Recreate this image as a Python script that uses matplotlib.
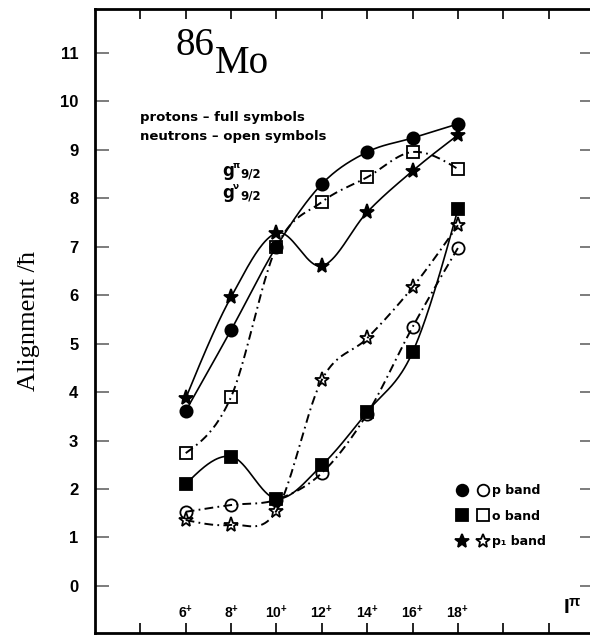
import numpy as np
import matplotlib
matplotlib.use("Agg")
import matplotlib.pyplot as plt
from matplotlib.lines import Line2D
from matplotlib.legend_handler import HandlerTuple

plt.rcParams['mathtext.fontset'] = 'custom'
plt.rcParams['mathtext.rm'] = 'Liberation Sans'
plt.rcParams['mathtext.bf'] = 'Liberation Sans:bold'
plt.rcParams['mathtext.it'] = 'Liberation Sans:italic'

# Spin values and alignment (in units of hbar) for each band
spins = [6, 8, 10, 12, 14, 16, 18]
spin_labels = ['6', '8', '10', '12', '14', '16', '18']
proton_p = [3.61, 5.28, 7.00, 8.29, 8.95, 9.24, 9.53]
proton_o = [2.10, 2.67, 1.80, 2.49, 3.59, 4.82, 7.77]
proton_p1 = [3.87, 5.96, 7.28, 6.60, 7.71, 8.56, 9.30]
neutron_p = [1.53, 1.67, 1.78, 2.33, 3.55, 5.34, 6.97]
neutron_o = [2.74, 3.90, 6.99, 7.92, 8.43, 8.95, 8.60]
neutron_p1 = [1.36, 1.26, 1.55, 4.25, 5.11, 6.16, 7.44]
band_names = ['p band', 'o band', 'p\u2081 band']
y_ticks = list(range(0, 12))

SANS_BOLD = dict(family='DejaVu Sans', weight='bold')


def smooth_curve(x, y, n=40):
    """Catmull-Rom style cubic Hermite curve through the points."""
    x = np.asarray(x, float)
    y = np.asarray(y, float)
    k = len(x)
    m = np.zeros(k)
    for i in range(1, k - 1):
        m[i] = (y[i + 1] - y[i - 1]) / (x[i + 1] - x[i - 1])
    s0 = (y[1] - y[0]) / (x[1] - x[0])
    s1 = (y[-1] - y[-2]) / (x[-1] - x[-2])
    m[0] = (3 * s0 - m[1]) / 2
    m[-1] = (3 * s1 - m[-2]) / 2
    xs_all, ys_all = [], []
    for i in range(k - 1):
        h = x[i + 1] - x[i]
        t = np.linspace(0, 1, n)
        h00 = 2 * t ** 3 - 3 * t ** 2 + 1
        h10 = t ** 3 - 2 * t ** 2 + t
        h01 = -2 * t ** 3 + 3 * t ** 2
        h11 = t ** 3 - t ** 2
        xs_all.append(x[i] + t * h)
        ys_all.append(h00 * y[i] + h10 * h * m[i] + h01 * y[i + 1] + h11 * h * m[i + 1])
    return np.concatenate(xs_all), np.concatenate(ys_all)


fig = plt.figure(figsize=(5.9, 6.35), dpi=100)
ax = fig.add_axes([95 / 590, 2 / 635, 499 / 590, 624 / 635])
ax.set_xlim(2, 24)
ax.set_ylim(-0.97, 11.9)

solid = dict(color='black', lw=1.2, ls='-')
dashdot = dict(color='black', lw=1.4, ls=(0, (4.5, 2.2, 0.9, 2.2)))

series = [
    (proton_p, solid, 'o', 'black'),
    (proton_o, solid, 's', 'black'),
    (proton_p1, solid, '*', 'black'),
    (neutron_p, dashdot, 'o', 'none'),
    (neutron_o, dashdot, 's', 'none'),
    (neutron_p1, dashdot, '*', 'none'),
]
msize = {'o': 8.8, 's': 8.5, '*': 11}
for vals, style, mk, face in series:
    xs, ys = smooth_curve(spins, vals)
    ax.plot(xs, ys, **style, zorder=2)
for vals, style, mk, face in series:
    ax.plot(spins, vals, ls='none', marker=mk, ms=msize[mk],
            mfc=face, mec='black', mew=1.3, zorder=3)

# Frame
for side in ['left', 'top', 'bottom']:
    ax.spines[side].set_linewidth(2)
ax.spines['right'].set_visible(False)

ax.set_yticks(y_ticks)
ax.set_yticklabels([str(v) for v in y_ticks], fontfamily='Liberation Sans',
                   fontweight='bold', fontsize=12)
ax.tick_params(axis='y', which='both', direction='in', length=10, width=1.2,
               color='#666666', left=True, right=True, pad=12)
ax.set_xticks(np.arange(4, 23, 2))
ax.set_xticklabels([])
ax.tick_params(axis='x', which='both', direction='in', length=7, width=1.2,
               color='black', top=True, bottom=True)

for s, lab in zip(spins, spin_labels):
    ax.text(s, -0.54, r'$\mathbf{' + lab + '^{+}}$', ha='center', va='center',
            fontsize=10)
ax.text(23.05, -0.45, r'$\mathbf{I^{\pi}}$', ha='center', va='center', fontsize=15)

ax.set_ylabel('Alignment /\u0127', fontfamily='Liberation Serif', fontsize=19)
ax.yaxis.set_label_coords((40 - 95) / 499, (633 - 321) / 624)

# Nucleus label
ax.text(6.4, 10.95, '86', fontfamily='Liberation Serif', fontsize=28,
        ha='center', va='baseline')
ax.text(8.5, 10.58, 'Mo', fontfamily='Liberation Serif', fontsize=28,
        ha='center', va='baseline')

ax.text(4.0, 9.67, 'protons \u2013 full symbols', fontsize=9.5, va='center',
        ha='left', **SANS_BOLD)
ax.text(4.0, 9.28, 'neutrons \u2013 open symbols', fontsize=9.5, va='center',
        ha='left', **SANS_BOLD)

# g9/2 orbital labels
for base, sup in [(8.45, '\u03c0'), (8.0, '\u03bd')]:
    ax.text(7.62, base, 'g', fontsize=12, va='baseline', ha='left', **SANS_BOLD)
    ax.text(8.08, base + 0.18, sup, fontsize=6.5, va='baseline', ha='left',
            **SANS_BOLD)
    ax.text(8.4, base - 0.03, '9/2', fontsize=8.5, va='baseline', ha='left',
            **SANS_BOLD)

# Legend: full (proton) and open (neutron) symbols side by side
handles = []
for mk in ['o', 's', '*']:
    full = Line2D([], [], ls='none', marker=mk, ms=msize[mk] * 0.95,
                  mfc='black', mec='black', mew=1.3)
    open_ = Line2D([], [], ls='none', marker=mk, ms=msize[mk] * 0.95,
                   mfc='none', mec='black', mew=1.3)
    handles.append((full, open_))
ax.legend(handles, band_names, handler_map={tuple: HandlerTuple(ndivide=None, pad=0)},
          loc='upper left', bbox_to_anchor=((451 - 95) / 499, (633 - 484) / 624),
          frameon=False, borderpad=0, borderaxespad=0, handlelength=3.4,
          handletextpad=-0.1, labelspacing=1.0,
          prop=dict(family='DejaVu Sans', weight='bold', size=9))

fig.savefig('out.png', dpi=100)
